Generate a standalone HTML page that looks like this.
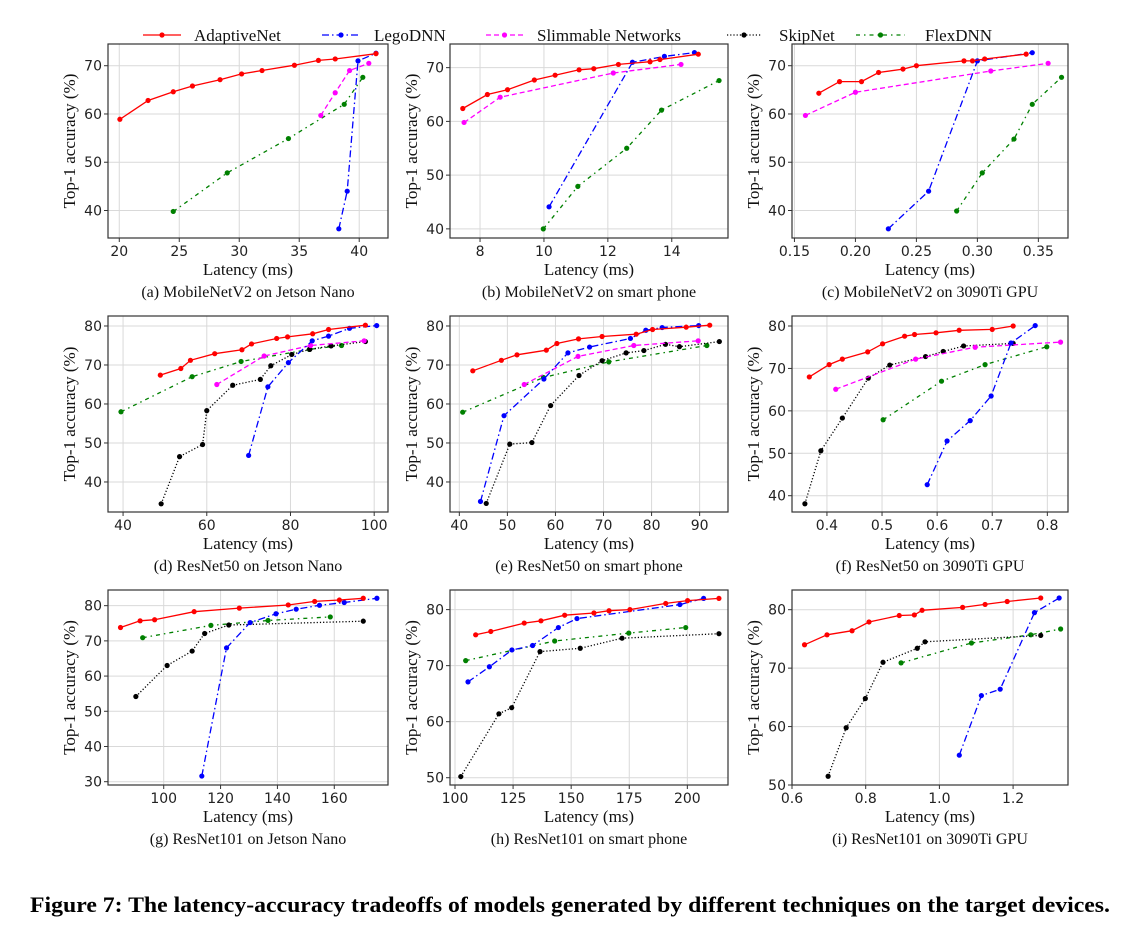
<!DOCTYPE html>
<html><head><meta charset="utf-8">
<style>
html,body{margin:0;padding:0;background:#fff;}
svg{display:block;}
.tick{font-family:"DejaVu Sans",sans-serif;font-size:14px;fill:#222;}
.lab{font-family:"Liberation Serif",serif;font-size:17px;fill:#111;}
.cap{font-family:"Liberation Serif",serif;font-size:16px;fill:#111;}
.leg{font-family:"Liberation Serif",serif;font-size:17px;fill:#111;}
.fig{font-family:"Liberation Serif",serif;font-size:22px;font-weight:bold;fill:#000;}
</style></head>
<body>
<svg id="chart" width="1142" height="928" viewBox="0 0 1142 928">
<text class="fig" x="30" y="912" textLength="1080" lengthAdjust="spacingAndGlyphs">Figure 7: The latency-accuracy tradeoffs of models generated by different techniques on the target devices.</text>
</svg>
<script>
// ---- data (latency, accuracy) ----
const a_adaptive_lat=[20.05,22.4,24.5,26.1,28.4,30.2,31.9,34.6,36.6,38.0,41.4];
const a_adaptive_acc=[58.9,62.8,64.6,65.8,67.1,68.3,69.0,70.1,71.1,71.4,72.5];
const a_lego_lat=[38.3,39.0,39.9,41.4];
const a_lego_acc=[36.2,44.0,71.0,72.6];
const a_slim_lat=[36.8,38.0,39.2,40.8];
const a_slim_acc=[59.7,64.4,69.0,70.5];
const a_flex_lat=[24.5,29.0,34.1,38.75,40.3];
const a_flex_acc=[39.8,47.8,54.9,62.0,67.6];

const b_adaptive_lat=[7.46,8.23,8.86,9.70,10.35,11.10,11.56,12.33,13.32,13.63,14.83];
const b_adaptive_acc=[62.4,65.0,65.9,67.7,68.6,69.6,69.8,70.6,71.1,71.5,72.5];
const b_lego_lat=[10.16,12.77,13.77,14.71];
const b_lego_acc=[44.1,71.0,72.1,72.8];
const b_slim_lat=[7.5,8.63,12.17,14.29];
const b_slim_acc=[59.8,64.5,69.0,70.6];
const b_flex_lat=[9.98,11.06,12.59,13.68,15.48];
const b_flex_acc=[40.0,47.9,55.0,62.1,67.6];

const c_adaptive_lat=[0.170,0.187,0.205,0.219,0.239,0.250,0.289,0.296,0.306,0.340];
const c_adaptive_acc=[64.3,66.7,66.7,68.6,69.3,70.0,71.0,71.0,71.4,72.4];
const c_lego_lat=[0.227,0.260,0.300,0.345];
const c_lego_acc=[36.2,44.0,71.0,72.7];
const c_slim_lat=[0.159,0.200,0.311,0.358];
const c_slim_acc=[59.7,64.5,68.9,70.5];
const c_flex_lat=[0.283,0.304,0.330,0.345,0.369];
const c_flex_acc=[39.9,47.8,54.8,62.0,67.6];

const d_adaptive_lat=[48.9,53.8,56.1,61.9,68.4,70.7,76.7,79.3,85.3,89.1,97.9];
const d_adaptive_acc=[67.4,69.1,71.2,72.9,73.9,75.4,76.8,77.2,78.0,79.1,80.2];
const d_lego_lat=[70.0,74.6,79.5,85.2,89.1,94.1,100.6];
const d_lego_acc=[46.8,64.4,70.6,76.2,77.4,79.4,80.1];
const d_slim_lat=[62.4,73.7,84.8,97.6];
const d_slim_acc=[65.0,72.3,75.0,76.2];
const d_skip_lat=[49.1,53.5,59.0,60.0,66.2,72.8,75.3,80.3,84.6,89.7,97.9];
const d_skip_acc=[34.4,46.5,49.6,58.3,64.8,66.3,69.8,72.7,74.0,74.9,76.0];
const d_flex_lat=[39.5,56.5,68.2,84.5,92.2];
const d_flex_acc=[58.0,67.0,70.9,74.0,75.0];

const e_adaptive_lat=[42.8,48.75,52.0,58.1,60.3,64.8,69.7,76.8,80.2,87.2,92.1];
const e_adaptive_acc=[68.5,71.2,72.6,73.8,75.5,76.7,77.3,77.9,79.1,79.7,80.2];
const e_lego_lat=[44.4,49.3,57.6,62.6,67.1,75.6,78.8,82.2,89.8];
const e_lego_acc=[35.0,57.0,66.4,73.1,74.6,76.8,78.9,79.6,80.1];
const e_slim_lat=[53.5,64.7,76.3,89.7];
const e_slim_acc=[65.0,72.2,75.0,76.2];
const e_skip_lat=[45.6,50.5,55.1,59.0,64.9,69.7,74.7,78.4,82.9,85.8,94.1];
const e_skip_acc=[34.5,49.7,50.1,59.6,67.3,71.1,73.1,73.7,75.3,74.7,76.0];
const e_flex_lat=[40.7,57.5,71.1,91.5];
const e_flex_acc=[57.9,66.8,70.8,75.0];

const f_adaptive_lat=[0.368,0.404,0.428,0.474,0.501,0.541,0.559,0.598,0.640,0.700,0.738];
const f_adaptive_acc=[68.0,70.9,72.2,73.9,75.8,77.6,78.0,78.4,79.0,79.2,80.0];
const f_lego_lat=[0.582,0.618,0.660,0.698,0.734,0.778];
const f_lego_acc=[42.6,52.9,57.7,63.5,76.0,80.1];
const f_slim_lat=[0.416,0.561,0.669,0.824];
const f_slim_acc=[65.1,72.2,75.0,76.2];
const f_skip_lat=[0.360,0.389,0.428,0.475,0.514,0.579,0.611,0.648,0.738];
const f_skip_acc=[38.1,50.6,58.3,67.7,70.8,72.8,74.0,75.3,75.9];
const f_flex_lat=[0.502,0.608,0.687,0.799];
const f_flex_acc=[57.9,67.0,70.9,75.1];

const g_adaptive_lat=[84.8,91.7,96.8,110.7,126.6,143.8,153.1,161.8,170.2];
const g_adaptive_acc=[73.8,75.7,76.0,78.3,79.3,80.2,81.2,81.6,82.1];
const g_lego_lat=[113.4,122.1,130.4,139.5,146.6,154.8,163.5,175.0];
const g_lego_acc=[31.6,68.0,75.2,77.7,79.0,80.1,80.9,82.1];
const g_skip_lat=[90.2,101.2,110.0,114.4,122.9,170.2];
const g_skip_acc=[54.2,63.0,67.1,72.1,74.5,75.6];
const g_flex_lat=[92.6,116.6,136.7,158.6];
const g_flex_acc=[70.9,74.4,75.8,76.8];

const h_adaptive_lat=[108.9,115.4,129.8,137.0,147.2,159.8,166.3,175.3,190.7,200.1,213.6];
const h_adaptive_acc=[75.5,76.1,77.6,78.0,79.0,79.4,79.8,80.0,81.1,81.6,82.0];
const h_lego_lat=[105.6,114.8,124.5,133.4,144.5,152.5,196.8,207.0];
const h_lego_acc=[67.1,69.8,72.8,73.6,76.8,78.4,80.9,82.0];
const h_skip_lat=[102.5,118.9,124.4,136.6,153.9,171.9,213.6];
const h_skip_acc=[50.2,61.4,62.5,72.5,73.1,74.9,75.7];
const h_flex_lat=[104.6,142.9,174.8,199.3];
const h_flex_acc=[70.9,74.4,75.8,76.8];

const i_adaptive_lat=[0.634,0.695,0.763,0.809,0.891,0.932,0.953,1.063,1.124,1.184,1.275];
const i_adaptive_acc=[74.0,75.7,76.4,77.9,79.0,79.1,79.9,80.4,80.9,81.4,82.0];
const i_lego_lat=[1.054,1.114,1.165,1.258,1.325];
const i_lego_acc=[55.1,65.3,66.4,79.5,82.0];
const i_skip_lat=[0.698,0.747,0.799,0.847,0.940,0.961,1.275];
const i_skip_acc=[51.5,59.8,64.8,71.0,73.4,74.5,75.6];
const i_flex_lat=[0.896,1.087,1.248,1.329];
const i_flex_acc=[70.9,74.3,75.7,76.7];

// tick values
const a_xticks=[20,25,30,35,40], a_yticks=[40,50,60,70];
const b_xticks=[8,10,12,14], b_yticks=[40,50,60,70];
const c_xticks=[0.15,0.20,0.25,0.30,0.35], c_yticks=[40,50,60,70];
const d_xticks=[40,60,80,100], d_yticks=[40,50,60,70,80];
const e_xticks=[40,50,60,70,80,90], e_yticks=[40,50,60,70,80];
const f_xticks=[0.4,0.5,0.6,0.7,0.8], f_yticks=[40,50,60,70,80];
const g_xticks=[100,120,140,160], g_yticks=[30,40,50,60,70,80];
const h_xticks=[100,125,150,175,200], h_yticks=[50,60,70,80];
const i_xticks=[0.6,0.8,1.0,1.2], i_yticks=[50,60,70,80];

const captions=["(a) MobileNetV2 on Jetson Nano","(b) MobileNetV2 on smart phone","(c) MobileNetV2 on 3090Ti GPU",
"(d) ResNet50 on Jetson Nano","(e) ResNet50 on smart phone","(f) ResNet50 on 3090Ti GPU",
"(g) ResNet101 on Jetson Nano","(h) ResNet101 on smart phone","(i) ResNet101 on 3090Ti GPU"];

const styles={
 adaptive:{c:"#ff0000",d:"",name:"AdaptiveNet"},
 lego:{c:"#0000ff",d:"7,3,1.5,3",name:"LegoDNN"},
 slim:{c:"#ff00ff",d:"5,3",name:"Slimmable Networks"},
 skip:{c:"#000000",d:"1.2,2",name:"SkipNet"},
 flex:{c:"#008000",d:"4,4,1.5,4",name:"FlexDNN"}
};

const panels=[
 {id:"a",L:108,R:388,T:44,B:238,x0:19.06,x1:42.4,y0:34.3,y1:74.5,xt:a_xticks,yt:a_yticks,fmt:0,s:{adaptive:[a_adaptive_lat,a_adaptive_acc],lego:[a_lego_lat,a_lego_acc],slim:[a_slim_lat,a_slim_acc],flex:[a_flex_lat,a_flex_acc]}},
 {id:"b",L:450,R:728,T:44,B:238,x0:7.06,x1:15.76,y0:38.3,y1:74.4,xt:b_xticks,yt:b_yticks,fmt:0,s:{adaptive:[b_adaptive_lat,b_adaptive_acc],lego:[b_lego_lat,b_lego_acc],slim:[b_slim_lat,b_slim_acc],flex:[b_flex_lat,b_flex_acc]}},
 {id:"c",L:792,R:1068,T:44,B:238,x0:0.148,x1:0.3743,y0:34.3,y1:74.5,xt:c_xticks,yt:c_yticks,fmt:2,s:{adaptive:[c_adaptive_lat,c_adaptive_acc],lego:[c_lego_lat,c_lego_acc],slim:[c_slim_lat,c_slim_acc],flex:[c_flex_lat,c_flex_acc]}},
 {id:"d",L:108,R:388,T:316,B:512,x0:36.4,x1:103.3,y0:32.3,y1:82.56,xt:d_xticks,yt:d_yticks,fmt:0,s:{adaptive:[d_adaptive_lat,d_adaptive_acc],lego:[d_lego_lat,d_lego_acc],slim:[d_slim_lat,d_slim_acc],skip:[d_skip_lat,d_skip_acc],flex:[d_flex_lat,d_flex_acc]}},
 {id:"e",L:450,R:728,T:316,B:512,x0:38.06,x1:95.9,y0:32.3,y1:82.56,xt:e_xticks,yt:e_yticks,fmt:0,s:{adaptive:[e_adaptive_lat,e_adaptive_acc],lego:[e_lego_lat,e_lego_acc],slim:[e_slim_lat,e_slim_acc],skip:[e_skip_lat,e_skip_acc],flex:[e_flex_lat,e_flex_acc]}},
 {id:"f",L:792,R:1068,T:316,B:512,x0:0.3366,x1:0.8375,y0:36.16,y1:82.36,xt:f_xticks,yt:f_yticks,fmt:1,s:{adaptive:[f_adaptive_lat,f_adaptive_acc],lego:[f_lego_lat,f_lego_acc],slim:[f_slim_lat,f_slim_acc],skip:[f_skip_lat,f_skip_acc],flex:[f_flex_lat,f_flex_acc]}},
 {id:"g",L:108,R:388,T:590,B:785,x0:80.4,x1:178.9,y0:29.06,y1:84.45,xt:g_xticks,yt:g_yticks,fmt:0,s:{adaptive:[g_adaptive_lat,g_adaptive_acc],lego:[g_lego_lat,g_lego_acc],skip:[g_skip_lat,g_skip_acc],flex:[g_flex_lat,g_flex_acc]}},
 {id:"h",L:450,R:728,T:590,B:785,x0:97.85,x1:217.5,y0:48.7,y1:83.5,xt:h_xticks,yt:h_yticks,fmt:0,s:{adaptive:[h_adaptive_lat,h_adaptive_acc],lego:[h_lego_lat,h_lego_acc],skip:[h_skip_lat,h_skip_acc],flex:[h_flex_lat,h_flex_acc]}},
 {id:"i",L:792,R:1068,T:590,B:785,x0:0.6,x1:1.349,y0:50,y1:83.37,xt:i_xticks,yt:i_yticks,fmt:1,s:{adaptive:[i_adaptive_lat,i_adaptive_acc],lego:[i_lego_lat,i_lego_acc],skip:[i_skip_lat,i_skip_acc],flex:[i_flex_lat,i_flex_acc]}}
];

const NS="http://www.w3.org/2000/svg";
const svg=document.getElementById("chart");
function mk(tag,attrs,parent,txt){const e=document.createElementNS(NS,tag);for(const k in attrs)e.setAttribute(k,attrs[k]);if(txt!==undefined)e.textContent=txt;(parent||svg).appendChild(e);return e;}

panels.forEach((p,pi)=>{
  const g=mk("g",{});
  
  
  const sx=v=>p.L+(v-p.x0)/(p.x1-p.x0)*(p.R-p.L);
  const sy=v=>p.B-(v-p.y0)/(p.y1-p.y0)*(p.B-p.T);
  const clipId="clip"+p.id;
  const cp=mk("clipPath",{id:clipId},g);mk("rect",{x:p.L,y:p.T,width:p.R-p.L,height:p.B-p.T},cp);
  p.xt.forEach(v=>{
    const x=sx(v);
    const gl=mk("line",{x1:x,x2:x,y1:p.T,y2:p.B,stroke:"#d9d9d9","stroke-width":1},g);
    
    
    mk("line",{x1:x,x2:x,y1:p.B,y2:p.B+4,stroke:"#333","stroke-width":1},g);
    const t=mk("text",{class:"tick",x:x,y:p.B+18,"text-anchor":"middle"},g,v.toFixed(p.fmt));
    
    
  });
  p.yt.forEach(v=>{
    const y=sy(v);
    const gl=mk("line",{x1:p.L,x2:p.R,y1:y,y2:y,stroke:"#d9d9d9","stroke-width":1},g);
    
    
    mk("line",{x1:p.L-4,x2:p.L,y1:y,y2:y,stroke:"#333","stroke-width":1},g);
    const t=mk("text",{class:"tick",x:p.L-6,y:y+5,"text-anchor":"end"},g,String(v));
    
    
  });
  const sg=mk("g",{"clip-path":"url(#"+clipId+")"},g);
  ["flex","skip","slim","lego","adaptive"].forEach(k=>{
    if(!p.s[k])return;
    const st=styles[k];const xs=p.s[k][0],ys=p.s[k][1];
    const pts=xs.map((x,j)=>sx(x).toFixed(1)+","+sy(ys[j]).toFixed(1)).join(" ");
    const pl=mk("polyline",{points:pts,fill:"none",stroke:st.c,"stroke-width":1.3,"stroke-dasharray":st.d},sg);
    
    
    xs.forEach((x,j)=>{
      const c=mk("circle",{cx:sx(x),cy:sy(ys[j]),r:2.6,fill:st.c},sg);
      
      
    });
  });
  const fr=mk("rect",{x:p.L,y:p.T,width:p.R-p.L,height:p.B-p.T,fill:"none",stroke:"#333","stroke-width":1.2},g);
  
  
  const xl=mk("text",{class:"lab",x:(p.L+p.R)/2,y:p.B+37,"text-anchor":"middle"},g,"Latency (ms)");
  
  
  const yc=(p.T+p.B)/2, yx=p.L-33;
  const yl=mk("text",{class:"lab",x:yx,y:yc,"text-anchor":"middle",transform:"rotate(-90 "+yx+" "+yc+")"},g,"Top-1 accuracy (%)");
  
  
  const cap=mk("text",{class:"cap",x:(p.L+p.R)/2,y:p.B+59,"text-anchor":"middle"},g,captions[pi]);
  
  
});

// legend
const leg=mk("g",{});


const legPos=[["adaptive",143,181,194],["lego",322,360,374],["slim",486,523,537],["skip",727,761,779],["flex",856,905,925]];
legPos.forEach(a=>{
  const st=styles[a[0]];
  const e=mk("g",{},leg);
  
  
  mk("line",{x1:a[1],x2:a[2],y1:35,y2:35,stroke:st.c,"stroke-width":1.3,"stroke-dasharray":st.d},e);
  mk("circle",{cx:(a[1]+a[2])/2,cy:35,r:2.6,fill:st.c},e);
  mk("text",{class:"leg",x:a[3],y:41},e,st.name);
});
</script>
</body></html>
